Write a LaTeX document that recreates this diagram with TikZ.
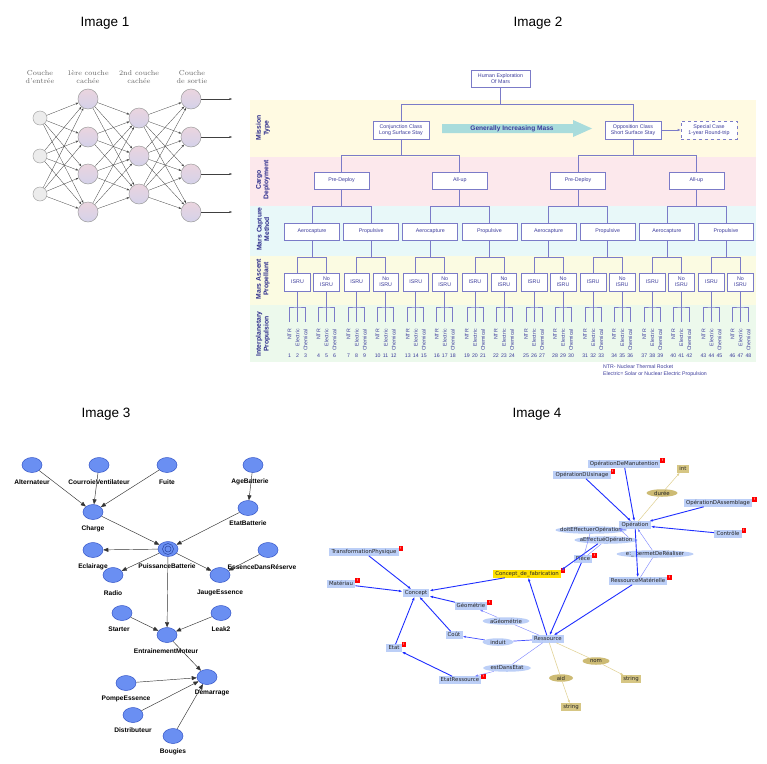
\documentclass[tikz,border=0pt]{standalone}
\usepackage{fontspec}
\newfontfamily\sans{Liberation Sans}
\newfontfamily\dv{DejaVu Sans}
\usetikzlibrary{arrows.meta,shapes.geometric,calc}
\definecolor{boxc}{HTML}{7B7BC8}
\definecolor{txtc}{HTML}{3B3B9B}
\definecolor{lblc}{HTML}{2A2A8A}
\definecolor{bandyel}{HTML}{FFFAE2}
\definecolor{bandpink}{HTML}{FCE8EC}
\definecolor{bandcyan}{HTML}{E8F8F9}
\definecolor{bandyelb}{HTML}{FBFBE2}
\definecolor{bandgreen}{HTML}{ECF9EC}
\definecolor{arrc}{HTML}{A9DCDC}
\definecolor{bnf}{HTML}{6A8FF2}
\definecolor{bnd}{HTML}{3556C8}
\definecolor{obf}{HTML}{BCCFF7}
\definecolor{oblue}{HTML}{1F2FFF}
\definecolor{tanbox}{HTML}{D6C684}
\definecolor{tanell}{HTML}{CDBB74}
\definecolor{tanline}{HTML}{E0D090}
\definecolor{cfabc}{HTML}{FFE100}
\definecolor{nnpink}{HTML}{EAD4DE}
\definecolor{nnlav}{HTML}{D4D2EA}
\begin{document}
\begin{tikzpicture}[x=1pt,y=-1pt]
\useasboundingbox (0,0) rectangle (767,763);
\fill[white] (0,0) rectangle (767,763);
\tikzset{
  ttl/.style={font=\sans\fontsize{13.5}{15}\selectfont},
  nnin/.style={circle,draw=gray!70,fill=gray!15,minimum size=14pt,inner sep=0pt,line width=0.5pt},
  nnh/.style={circle,draw=gray!75,top color=nnpink,bottom color=nnlav,minimum size=20pt,inner sep=0pt,line width=0.5pt},
  nnedge/.style={draw=black!75,line width=0.3pt,-{Stealth[length=2.8pt,width=2pt]}},
  nnlab/.style={font=\fontsize{7.2}{8}\selectfont,text=black!60,align=center,inner sep=0pt},
  bandlab/.style={font=\sans\bfseries\fontsize{6.8}{7.6}\selectfont,text=lblc,align=center,rotate=90,inner sep=0pt},
  mbox/.style={draw=boxc,fill=white,line width=0.6pt,font=\sans\fontsize{5.3}{6.2}\selectfont,text=txtc,align=center,inner sep=0pt},
  tline/.style={draw=boxc,line width=0.6pt},
  leaflab/.style={font=\sans\fontsize{5.2}{6}\selectfont,text=txtc,rotate=90,anchor=east,inner sep=0pt},
  numlab/.style={font=\sans\fontsize{5.2}{6}\selectfont,text=txtc,inner sep=0pt},
  bn/.style={ellipse,draw=bnd,fill=bnf,minimum width=20pt,minimum height=15pt,inner sep=0pt,line width=0.5pt},
  bnlab/.style={font=\sans\bfseries\fontsize{6.6}{7}\selectfont,inner sep=0pt},
  bnedge/.style={draw=black!80,line width=0.45pt,-{Triangle[length=5pt,width=4pt]}},
  ob/.style={fill=obf,font=\dv\fontsize{5.4}{6}\selectfont,text=black!85,inner xsep=2.2pt,inner ysep=1pt,text height=4pt,text depth=1.2pt},
  oell/.style={ellipse,fill=obf,font=\dv\fontsize{5.4}{6}\selectfont,text=black!85,inner xsep=-40pt,inner ysep=-4pt,minimum width=#1,minimum height=7.5pt},
  tbox/.style={ob,fill=tanbox},
  tell/.style={oell=#1,fill=tanell},
  badge/.style={fill=red,text=white,font=\sans\bfseries\fontsize{3.4}{3.4}\selectfont,inner sep=0pt,minimum width=4.5pt,minimum height=5pt},
  oa/.style={draw=oblue,line width=0.9pt,-{Latex[length=3.5pt,width=2.6pt]}},
  ota/.style={draw=oblue!60,line width=0.4pt,-{Latex[length=3pt,width=2.2pt]}},
  ot/.style={draw=oblue!60,line width=0.4pt},
  tana/.style={draw=tanline,line width=0.5pt,-{Latex[length=3pt,width=2.2pt]}},
  tanl/.style={draw=tanline,line width=0.5pt}
}
% ---------------- titles
\node[ttl] (t1) at (105,23) {Image 1};
\node[ttl] (t2) at (538,23) {Image 2};
\node[ttl] (t3) at (106,414) {Image 3};
\node[ttl] (t4) at (537,414) {Image 4};

% ---------------- Image 1
\node[nnlab] (l1) at (40,77) {Couche\\d'entrée};
\node[nnlab] (l2) at (88,77) {1ère couche\\cachée};
\node[nnlab] (l3) at (139,77) {2nd couche\\cachée};
\node[nnlab] (l4) at (192,77) {Couche\\de sortie};
\foreach \i/\y in {1/118,2/156,3/194} \node[nnin] (i\i) at (40,\y) {};
\foreach \i/\y in {1/99,2/137,3/174,4/212} \node[nnh] (h\i) at (88,\y) {};
\foreach \i/\y in {1/118,2/156,3/194} \node[nnh] (g\i) at (139,\y) {};
\foreach \i/\y in {1/99,2/137,3/174,4/212} {
  \node[nnh] (o\i) at (191,\y) {};
  \coordinate (oe\i) at (232,\y);
}
\foreach \a in {1,2,3} \foreach \b in {1,...,4} \draw[nnedge] (i\a) -- (h\b);
\foreach \a in {1,...,4} \foreach \b in {1,2,3} \draw[nnedge] (h\a) -- (g\b);
\foreach \a in {1,2,3} \foreach \b in {1,...,4} \draw[nnedge] (g\a) -- (o\b);
\foreach \a in {1,...,4} \draw[nnedge] (o\a) -- (oe\a);

% ---------------- Image 2 bands
\fill[bandyel] (250,100) rectangle (756,157);
\fill[bandpink] (250,157) rectangle (756,206);
\fill[bandcyan] (250,206) rectangle (756,256);
\fill[bandyelb] (250,256) rectangle (756,305);
\fill[bandgreen] (250,305) rectangle (756,362);
\node[bandlab] (bl1) at (263,128) {Mission\\Type};
\node[bandlab] (bl2) at (263,180) {Cargo\\Deployment};
\node[bandlab] (bl3) at (263,229) {Mars Capture\\Method};
\node[bandlab] (bl4) at (263,279) {Mars Ascent\\Propellant};
\node[bandlab] (bl5) at (263,334) {Interplanetary\\Propulsion};

\node[mbox,minimum width=59pt,minimum height=16.5pt] (top) at (500.5,79) {Human Exploration\\Of Mars};
\node[mbox,minimum width=56pt,minimum height=18pt] (conj) at (401,130) {Conjunction Class\\Long Surface Stay};
\node[mbox,minimum width=56pt,minimum height=18pt] (opp) at (633,130) {Opposition Class\\Short Surface Stay};
\node[mbox,dashed,minimum width=56pt,minimum height=18pt] (spec) at (709,130) {Special Case\\1-year Round-trip};
\fill[arrc] (442,124) -- (573,124) -- (573,120) -- (592,128.5) -- (573,137) -- (573,133) -- (442,133) -- cycle;
\node[font=\sans\bfseries\fontsize{6.6}{7}\selectfont,text=txtc,inner sep=0pt] (gim) at (512,128.5) {Generally Increasing Mass};
\draw[tline,-{Latex[length=3pt,width=2.5pt]}] (opp.east) -- (spec.west);

\draw[tline] (top.south) -- ++(0,17) coordinate (b0);
\draw[tline] (conj.north) |- (b0) -| (opp.north);

\foreach \k/\lab in {0/Pre-Deploy,1/All-up,2/Pre-Deploy,3/All-up}{
  \pgfmathsetmacro\cx{341.5+118.28*\k}
  \node[mbox,minimum width=55pt,minimum height=17pt] (cg\k) at (\cx,180.5) {\lab};
}
\draw[tline] (conj.south) -- ++(0,16) coordinate (b1);
\draw[tline] (cg0.north) |- (b1) -| (cg1.north);
\draw[tline] (opp.south) -- ++(0,16) coordinate (b2);
\draw[tline] (cg2.north) |- (b2) -| (cg3.north);

\foreach \k/\lab in {0/Aerocapture,1/Propulsive,2/Aerocapture,3/Propulsive,4/Aerocapture,5/Propulsive,6/Aerocapture,7/Propulsive}{
  \pgfmathsetmacro\cx{312+59.14*\k}
  \node[mbox,minimum width=55pt,minimum height=17pt] (cap\k) at (\cx,231.5) {\lab};
}
\foreach \k in {0,...,3}{
  \pgfmathtruncatemacro\ca{2*\k}
  \pgfmathtruncatemacro\cb{2*\k+1}
  \draw[tline] (cg\k.south) -- ++(0,17) coordinate (cb\k);
  \draw[tline] (cap\ca.north) |- (cb\k) -| (cap\cb.north);
}
\foreach \j in {0,...,15}{
  \pgfmathtruncatemacro\k{int(\j/2)}
  \pgfmathsetmacro\ax{312+59.14*\k-14.5+29*mod(\j,2)}
  \ifodd\j\relax
    \node[mbox,minimum width=25.5pt,minimum height=18pt] (asc\j) at (\ax,282) {No\\ISRU};
  \else
    \node[mbox,minimum width=25.5pt,minimum height=18pt] (asc\j) at (\ax,282) {ISRU};
  \fi
  \coordinate (ll\j) at (\ax-8,322);
  \coordinate (lr\j) at (\ax+8,322);
  \coordinate (lb\j) at (\ax,307);
  \draw[tline] (asc\j.south) -- ++(0,31) coordinate (lm\j);
  \draw[tline] (ll\j) |- (lb\j) -| (lr\j);
  \node[leaflab] (lta\j) at (\ax-8,329) {NTR};
  \node[leaflab] (ltb\j) at (\ax,329) {Electric};
  \node[leaflab] (ltc\j) at (\ax+8,329) {Chemical};
  \pgfmathtruncatemacro\na{3*\j+1}
  \pgfmathtruncatemacro\nb{3*\j+2}
  \pgfmathtruncatemacro\nc{3*\j+3}
  \node[numlab] (na\j) at (\ax-8,356) {\na};
  \node[numlab] (nb\j) at (\ax,356) {\nb};
  \node[numlab] (nc\j) at (\ax+8,356) {\nc};
}
\foreach \k in {0,...,7}{
  \pgfmathtruncatemacro\aa{2*\k}
  \pgfmathtruncatemacro\ab{2*\k+1}
  \draw[tline] (cap\k.south) -- ++(0,17) coordinate (ab\k);
  \draw[tline] (asc\aa.north) |- (ab\k) -| (asc\ab.north);
}
\node[font=\sans\fontsize{5.2}{6}\selectfont,text=txtc,anchor=west,inner sep=0pt] (fn1) at (603,367) {NTR- Nuclear Thermal Rocket};
\node[font=\sans\fontsize{5.2}{6}\selectfont,text=txtc,anchor=west,inner sep=0pt] (fn2) at (603,374) {Electric= Solar or Nuclear Electric Propulsion};

% ---------------- Image 3
\foreach \n/\x/\y in {alt/32/465,cou/99/465,fui/167/465,age/253/465,cha/93/512,eta/248/508,ecl/93/550,ess/268/550,rad/113/575,jau/220/575,sta/122/613,lea/221/613,ent/167/635,dem/207/677,pom/126/683,dis/133/715,bou/173/736}
  \node[bn] (\n) at (\x,\y) {};
\node[bn] (pb) at (168,549) {};
\node[circle,draw=bnd!80!black,line width=0.5pt,minimum size=11pt,inner sep=0pt] (pbr1) at (pb) {};
\node[circle,draw=bnd!80!black,line width=0.5pt,minimum size=6pt,inner sep=0pt] (pbr2) at (pb) {};
\node[bnlab] (Lalt) at (32,482) {Alternateur};
\node[bnlab] (Lcou) at (99,482) {CourroieVentilateur};
\node[bnlab] (Lfui) at (167,482) {Fuite};
\node[bnlab] (Lage) at (250,482) {AgeBatterie};
\node[bnlab] (Lcha) at (93,529) {Charge};
\node[bnlab] (Leta) at (248,523) {EtatBatterie};
\node[bnlab] (Lpb) at (167,566) {PuissanceBatterie};
\node[bnlab] (Lecl) at (93,567) {Eclairage};
\node[bnlab] (Less) at (262,567) {EssenceDansRéserve};
\node[bnlab] (Lrad) at (113,593) {Radio};
\node[bnlab] (Ljau) at (220,593) {JaugeEssence};
\node[bnlab] (Lsta) at (119,629) {Starter};
\node[bnlab] (Llea) at (221,629) {Leak2};
\node[bnlab] (Lent) at (166,651) {EntrainementMoteur};
\node[bnlab] (Ldem) at (212,693) {Démarrage};
\node[bnlab] (Lpom) at (126,699) {PompeEssence};
\node[bnlab] (Ldis) at (133,730) {Distributeur};
\node[bnlab] (Lbou) at (173,752) {Bougies};
\draw[bnedge] (alt) -- (cha);
\draw[bnedge] (cou) -- (cha);
\draw[bnedge] (fui) -- (cha);
\draw[bnedge] (age) -- (eta);
\draw[bnedge] (cha) -- (pb);
\draw[bnedge] (eta) -- (pb);
\draw[bnedge] (pb) -- (ecl);
\draw[bnedge] (pb) -- (rad);
\draw[bnedge] (pb) -- (jau);
\draw[bnedge] (ess) -- (jau);
\draw[bnedge] (pb) -- (ent);
\draw[bnedge] (sta) -- (ent);
\draw[bnedge] (lea) -- (ent);
\draw[bnedge] (ent) -- (dem);
\draw[bnedge] (pom) -- (dem);
\draw[bnedge] (dis) -- (dem);
\draw[bnedge] (bou) -- (dem);

% ---------------- Image 4
\node[ob] (manut) at (624,464) {OpérationDeManutention};
\node[ob] (usin) at (582,475) {OpérationDUsinage};
\node[tbox] (int) at (683,469) {int};
\node[tell=31pt] (duree) at (662,493) {durée};
\node[ob] (assem) at (718,503) {OpérationDAssemblage};
\node[ob] (oper) at (635,525) {Opération};
\node[ob] (ctrl) at (728,534) {Contrôle};
\node[oell=71pt] (doit) at (591,530) {doitEffectuerOpération};
\node[oell=63pt] (aeff) at (606,540) {aEffectuéOpération};
\node[ob] (pie) at (583,559) {Pièce};
\node[oell=77pt] (perm) at (655,554) {e:\_ permetDeRéaliser};
\node[ob] (rmat) at (638,581) {RessourceMatérielle};
\node[ob,fill=cfabc] (cfab) at (527,574) {Concept\_de\_fabrication};
\node[ob] (transf) at (364,552) {TransformationPhysique};
\node[ob] (mat) at (341,584) {Matériau};
\node[ob] (concept) at (416,593) {Concept};
\node[ob] (geo) at (471,606) {Géométrie};
\node[oell=47pt] (ageo) at (506,621) {aGéométrie};
\node[ob] (cout) at (454,635) {Coût};
\node[oell=31pt] (induit) at (498,642) {induit};
\node[ob] (res) at (548,639) {Ressource};
\node[ob] (etat) at (394,648) {Etat};
\node[oell=48pt] (edans) at (507,668) {estDansEtat};
\node[ob] (etres) at (460,680) {EtatRessource};
\node[tell=27pt] (nom) at (596,661) {nom};
\node[tell=24pt] (aid) at (561,678) {aid};
\node[tbox] (str1) at (571,707) {string};
\node[tbox] (str2) at (631,679) {string};
\foreach \n in {manut,usin,assem,ctrl,pie,rmat,cfab,transf,mat,geo,etat,etres}
  \node[badge] (bd\n) at ([shift={(2,0)}]\n.north east) {!};

\draw[oa] (manut) -- (oper);
\draw[oa] (usin) -- (oper);
\draw[oa] (assem) -- (oper);
\draw[oa] (ctrl) -- (oper);
\draw[tanl] (oper) -- (duree);
\draw[tana] (duree) -- (int);
\draw[oa] (aeff.205) -- (cfab.north east);
\draw[ot] (pie) -- (doit);
\draw[ot] (pie) -- (aeff);
\draw[ota] (doit.east) -- (oper.south west);
\draw[ota] (aeff.north east) -- (oper.south west);
\draw[oa] (oper) -- (rmat);
\draw[ot] (rmat) -- (perm);
\draw[ota] (perm) -- (oper);
\draw[oa] (pie) -- (res);
\draw[oa] (rmat) -- (res);
\draw[oa] (res) -- (cfab);
\draw[oa] (cfab) -- (concept);
\draw[oa] (transf) -- (concept);
\draw[oa] (mat) -- (concept);
\draw[oa] (geo) -- (concept);
\draw[oa] (cout) -- (concept);
\draw[oa] (etat) -- (concept);
\draw[oa] (etres) -- (etat);
\draw[ot] (res) -- (ageo);
\draw[ota] (ageo) -- (geo);
\draw[draw=oblue!85,line width=0.7pt] (res) -- (induit);
\draw[draw=oblue!85,line width=0.7pt,-{Latex[length=3pt,width=2.2pt]}] (induit) -- (cout);
\draw[ot] (res) -- (edans);
\draw[ota] (edans) -- (etres);
\draw[tanl] (res) -- (nom);
\draw[tana] (nom) -- (str2);
\draw[tanl] (res) -- (aid);
\draw[tana] (aid) -- (str1);
\end{tikzpicture}
\end{document}
